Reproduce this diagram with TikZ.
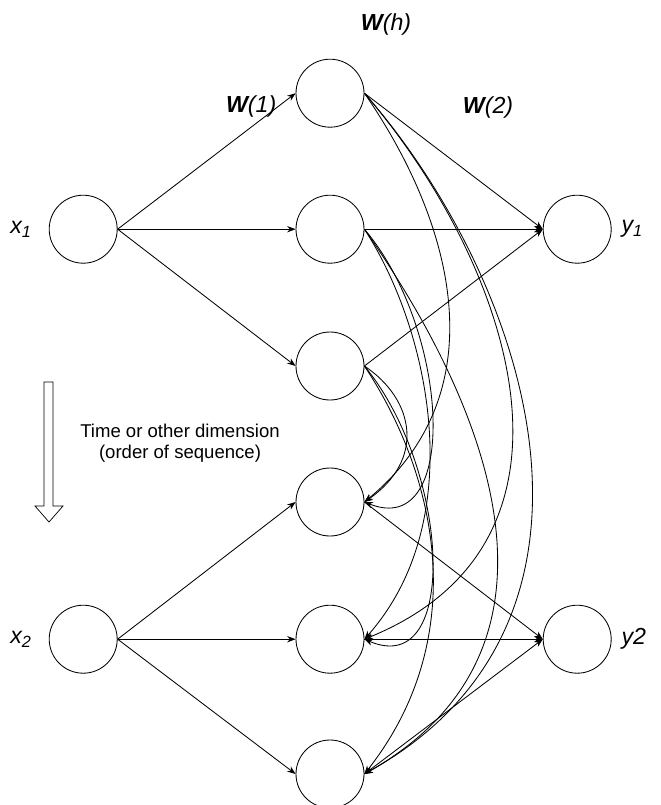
\documentclass[tikz,border=0pt]{standalone}
\usepackage{fontspec}
\setmainfont{Liberation Sans}
\usetikzlibrary{arrows.meta,positioning}

\begin{document}
\begin{tikzpicture}[>={Stealth[length=6pt,width=4.5pt]}, line width=0.6pt,
    neuron/.style={draw, circle, minimum size=1.7cm, inner sep=0pt},
    lbl/.style={font=\fontsize{16.5}{19}\selectfont\itshape}]
    \useasboundingbox (0,0) rectangle (16.5,-20.125);

    % input, hidden and output units
    \node [neuron] (x1) at (2.08,-5.73) {};
    \node [neuron] (x2) at (2.08,-15.98) {};
    \node [neuron] (h1) at (8.25,-2.33) {};
    \node [neuron] (h2) at (8.25,-5.73) {};
    \node [neuron] (h3) at (8.25,-9.15) {};
    \node [neuron] (h4) at (8.25,-12.55) {};
    \node [neuron] (h5) at (8.25,-15.98) {};
    \node [neuron] (h6) at (8.25,-19.35) {};
    \node [neuron] (y1) at (14.43,-5.73) {};
    \node [neuron] (y2) at (14.43,-15.98) {};

    \node [lbl, left=0.3cm of x1] {x\textsubscript{1}};
    \node [lbl, left=0.3cm of x2] {x\textsubscript{2}};
    \node [lbl, right=0.12cm of y1] {y\textsubscript{1}};
    \node [lbl, right=0.12cm of y2] {y2};

    \node [lbl] (w1) at (6.28,-2.65) {\textbf{W}(1)};
    \node [lbl] (wh) at (9.65,-0.6) {\textbf{W}(h)};
    \node [lbl] (w2) at (12.2,-2.68) {\textbf{W}(2)};

    % input to hidden
    \draw [->] (x1.east) -- (h1.west);
    \draw [->] (x1.east) -- (h2.west);
    \draw [->] (x1.east) -- (h3.west);
    \draw [->] (x2.east) -- (h4.west);
    \draw [->] (x2.east) -- (h5.west);
    \draw [->] (x2.east) -- (h6.west);

    % hidden to output
    \draw [->] (h1.east) -- (y1.west);
    \draw [->] (h2.east) -- (y1.west);
    \draw [->] (h3.east) -- (y1.west);
    \draw [->] (h4.east) -- (y2.west);
    \draw [->] (h5.east) -- (y2.west);
    \draw [->] (h6.east) -- (y2.west);

    % hidden to hidden, W(h)
    \draw [->] (h1.east) .. controls (11.3,-5.5) and (12.5,-9.75) .. (h4.east);
    \draw [->] (h1.east) .. controls (12.7,-6.5) and (15.2,-13.5) .. (h5.east);
    \draw [->] (h1.east) .. controls (13.2,-7) and (16,-15.5) .. (h6.east);
    \draw [->] (h2.east) .. controls (11.25,-8.25) and (11.5,-13.5) .. (h4.east);
    \draw [->] (h2.east) .. controls (10.75,-8.25) and (11.75,-13) .. (h5.east);
    \draw [->] (h2.east) .. controls (11.75,-9.5) and (15,-16) .. (h6.east);
    \draw [->] (h3.east) .. controls (10.38,-10) and (10.63,-11.5) .. (h4.east);
    \draw [->] (h3.east) .. controls (11.25,-11.75) and (11.5,-17) .. (h5.east);
    \draw [->] (h3.east) .. controls (11,-12) and (11.75,-16) .. (h6.east);

    % time axis
    \draw [line width=0.5pt] (1.1,-9.55) -- (1.325,-9.55) -- (1.325,-12.65) -- (1.575,-12.65)
        -- (1.225,-13.05) -- (0.875,-12.65) -- (1.1,-12.65) -- cycle;
    \node [align=center, font=\fontsize{13.2}{15.6}\selectfont] (time) at (4.5,-11.08)
        {Time or other dimension\\(order of sequence)};
\end{tikzpicture}
\end{document}
